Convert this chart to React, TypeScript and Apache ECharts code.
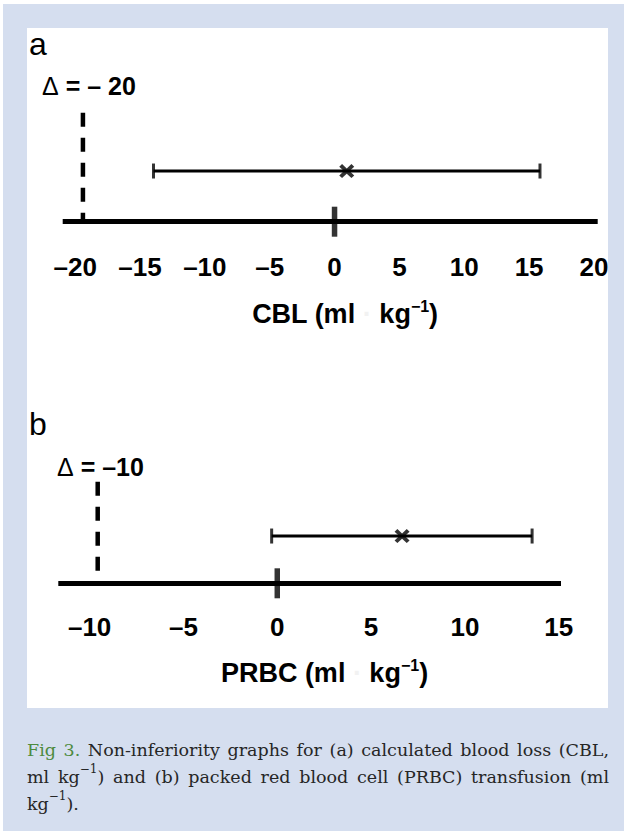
import React, { useEffect, useRef } from "react";
import * as echarts from "echarts";

// ---------- data ----------
const cblTicks = [-20, -15, -10, -5, 0, 5, 10, 15, 20];
const cblAxisRange = [-20.96, 20.29];
const cblDelta = -19.4;
const cblEstimate = 0.94;
const cblCI = [-13.96, 15.84];

const prbcTicks = [-10, -5, 0, 5, 10, 15];
const prbcAxisRange = [-11.67, 15.12];
const prbcDelta = -9.57;
const prbcEstimate = 6.65;
const prbcCI = [-0.3, 13.58];

const zeroLine = 0;
// levels on the hidden vertical axis: axis, CI row, top of the margin line
const rowLevels = [0, 1, 2.15];

const panelLetters = ["a", "b"];
const deltaValues = ["– 20", "–10"];
const axisTitleMain = ["CBL (ml ", "PRBC (ml "];

const captionLines = [
  ["@Fig", "@3.", "Non-inferiority", "graphs", "for", "(a)", "calculated", "blood", "loss", "(CBL,"],
  ["ml", "kg^−1^)", "and", "(b)", "packed", "red", "blood", "cell", "(PRBC)", "transfusion", "(ml"],
  ["kg^−1^)."],
];

// ---------- styling ----------
const SANS = "Liberation Sans";
const SERIF = "DejaVu Serif";
const CAP_FS = 17.5;
const SUP_FS = 12;
const X_PATH =
  "path://M0,3 L3,0 L8,5 L13,0 L16,3 L11,8 L16,13 L13,16 L8,11 L3,16 L0,13 L5,8 Z";

const fmtTick = (v: number) => (v < 0 ? "–" + Math.abs(v) : String(v));

function svgMeasure(t: string, size: number) {
  const ns = "http://www.w3.org/2000/svg";
  const svg = document.createElementNS(ns, "svg");
  svg.setAttribute("width", "10");
  svg.setAttribute("height", "10");
  svg.style.position = "absolute";
  svg.style.left = "-9999px";
  const tx = document.createElementNS(ns, "text") as SVGTextElement;
  tx.setAttribute("style", `font-size:${size}px;font-family:${SERIF};`);
  tx.textContent = t;
  svg.appendChild(tx);
  document.body.appendChild(svg);
  const w = tx.getComputedTextLength();
  document.body.removeChild(svg);
  return w;
}

function buildPanel(idx: number, ticks: number[], range: number[], delta: number, est: number, ci: number[], margin: number) {
  const xAxis = {
    type: "value",
    gridIndex: idx,
    min: range[0],
    max: range[1],
    axisLine: { show: true, onZero: false, lineStyle: { color: "#000", width: 5, cap: "butt" } },
    axisTick: { show: false },
    splitLine: { show: false },
    axisLabel: {
      customValues: ticks,
      formatter: fmtTick,
      margin,
      verticalAlign: "middle",
      fontSize: 26,
      fontWeight: "bold",
      fontFamily: SANS,
      color: "#000",
    },
  };
  const yAxis = { type: "value", gridIndex: idx, min: 0, max: 2.2, show: false };
  const common = { xAxisIndex: idx, yAxisIndex: idx, silent: true, animation: false };
  const series = [
    {
      ...common,
      type: "line",
      data: [
        [delta, rowLevels[2]],
        [delta, rowLevels[0]],
      ],
      symbol: "none",
      clip: false,
      lineStyle: { color: "#000", width: 4.5, type: [14, 11], cap: "butt" },
      z: 3,
    },
    {
      ...common,
      type: "line",
      data: [
        [ci[0], rowLevels[1]],
        [ci[1], rowLevels[1]],
      ],
      symbol: "none",
      clip: false,
      lineStyle: { color: "#000", width: 3 },
      z: 3,
    },
    {
      ...common,
      type: "scatter",
      data: [
        [ci[0], rowLevels[1]],
        [ci[1], rowLevels[1]],
      ],
      symbol: "rect",
      symbolSize: [3, 15],
      itemStyle: { color: "#000" },
      z: 4,
    },
    {
      ...common,
      type: "scatter",
      data: [[est, rowLevels[1]]],
      symbol: X_PATH,
      symbolSize: [15, 14],
      itemStyle: { color: "#000" },
      z: 5,
    },
    {
      ...common,
      type: "scatter",
      data: [[zeroLine, rowLevels[0]]],
      symbol: "rect",
      symbolSize: [5.5, 30],
      itemStyle: { color: "#000" },
      z: 5,
    },
  ];
  return { xAxis, yAxis, series };
}

function buildCaption() {
  const measure = svgMeasure;
  const left = 27;
  const right = 609;
  const avail = right - left;
  const baselines = [756, 783, 810];
  const els: any[] = [];
  captionLines.forEach((words, li) => {
    const parsed = words.map((w) => {
      const green = w.startsWith("@");
      const raw = green ? w.slice(1) : w;
      const segs = raw.split("^");
      let width = 0;
      let text = "";
      segs.forEach((s, i) => {
        if (!s) return;
        if (i % 2 === 1) {
          width += measure(s, SUP_FS);
          text += `{s|${s}}`;
        } else {
          width += measure(s, CAP_FS);
          text += `{${green ? "g" : "m"}|${s}}`;
        }
      });
      return { width, text };
    });
    const total = parsed.reduce((a, p) => a + p.width, 0);
    const last = li === captionLines.length - 1;
    const gap = last || parsed.length < 2 ? measure(" ", CAP_FS) : (avail - total) / (parsed.length - 1);
    let x = left;
    const y = baselines[li] - 0.3465 * CAP_FS;
    parsed.forEach((p) => {
      els.push({
        type: "text",
        x,
        y,
        silent: true,
        style: {
          text: p.text,
          fontSize: CAP_FS,
          fontFamily: SERIF,
          fill: "#262626",
          align: "left",
          verticalAlign: "middle",
          rich: {
            m: { fontSize: CAP_FS, fontFamily: SERIF, fill: "#262626", lineHeight: 28, verticalAlign: "middle" },
            g: { fontSize: CAP_FS, fontFamily: SERIF, fill: "#4d8a3e", lineHeight: 28, verticalAlign: "middle" },
            s: { fontSize: SUP_FS, fontFamily: SERIF, fill: "#262626", lineHeight: 12, verticalAlign: "top" },
          },
        },
      });
      x += p.width + gap;
    });
  });
  return els;
}

function axisTitle(main: string, cx: number, cy: number) {
  return {
    type: "text",
    x: cx,
    y: cy,
    silent: true,
    style: {
      text: `{m|${main}}{d|·}{m| kg}{s|−1}{m|)}`,
      fontSize: 27,
      fontWeight: "bold",
      fontFamily: SANS,
      fill: "#000",
      align: "center",
      verticalAlign: "middle",
      rich: {
        m: { fontSize: 27, fontWeight: "bold", fontFamily: SANS, fill: "#000", lineHeight: 32, verticalAlign: "middle" },
        d: { fontSize: 27, fontWeight: "bold", fontFamily: SANS, fill: "#f2f2f2", lineHeight: 32, verticalAlign: "middle" },
        s: { fontSize: 16, fontWeight: "bold", fontFamily: SANS, fill: "#000", lineHeight: 16, verticalAlign: "top" },
      },
    },
  };
}

function simpleText(text: string, x: number, y: number, size: number, weight: string) {
  return {
    type: "text",
    x,
    y,
    silent: true,
    style: { text, fontSize: size, fontWeight: weight, fontFamily: SANS, fill: "#000", align: "left", verticalAlign: "middle" },
  };
}

function deltaText(value: string, x: number, y: number) {
  return {
    type: "text",
    x,
    y,
    silent: true,
    style: {
      text: `{n|Δ}{b| = ${value}}`,
      fontSize: 25,
      fontFamily: SANS,
      fill: "#000",
      align: "left",
      verticalAlign: "middle",
      rich: {
        n: { fontSize: 25, fontWeight: "normal", fontFamily: SANS, fill: "#000", lineHeight: 28, verticalAlign: "middle" },
        b: { fontSize: 25, fontWeight: "bold", fontFamily: SANS, fill: "#000", lineHeight: 28, verticalAlign: "middle" },
      },
    },
  };
}

function buildOption() {
  const a = buildPanel(0, cblTicks, cblAxisRange, cblDelta, cblEstimate, cblCI, 45.3);
  const b = buildPanel(1, prbcTicks, prbcAxisRange, prbcDelta, prbcEstimate, prbcCI, 43.4);
  return {
    animation: false,
    grid: [
      { left: 62.7, top: 110.2, width: 535, height: 111.5 },
      { left: 58.3, top: 479.3, width: 502.7, height: 104 },
    ],
    xAxis: [a.xAxis, b.xAxis],
    yAxis: [a.yAxis, b.yAxis],
    series: [...a.series, ...b.series],
    graphic: [
      simpleText(panelLetters[0], 29, 44, 32, "normal"),
      simpleText(panelLetters[1], 29, 424, 32, "normal"),
      deltaText(deltaValues[0], 42, 86.3),
      deltaText(deltaValues[1], 57, 467.3),
      axisTitle(axisTitleMain[0], 345, 314),
      axisTitle(axisTitleMain[1], 324.5, 673),
      ...buildCaption(),
    ],
  };
}

export default function App() {
  const ref = useRef<HTMLDivElement>(null);
  useEffect(() => {
    const chart = echarts.init(ref.current!, null, { renderer: "svg", width: 624, height: 831 });
    chart.setOption(buildOption() as any);
    return () => chart.dispose();
  }, []);
  return (
    <div style={{ position: "absolute", left: 0, top: 0, width: 624, height: 831, background: "#fff" }}>
      <div style={{ position: "absolute", left: 3, top: 4, width: 621, height: 827, background: "#d5deef" }} />
      <div style={{ position: "absolute", left: 27, top: 28, width: 581, height: 680, background: "#fff" }} />
      <div ref={ref} style={{ position: "absolute", left: 0, top: 0, width: 624, height: 831 }} />
    </div>
  );
}
